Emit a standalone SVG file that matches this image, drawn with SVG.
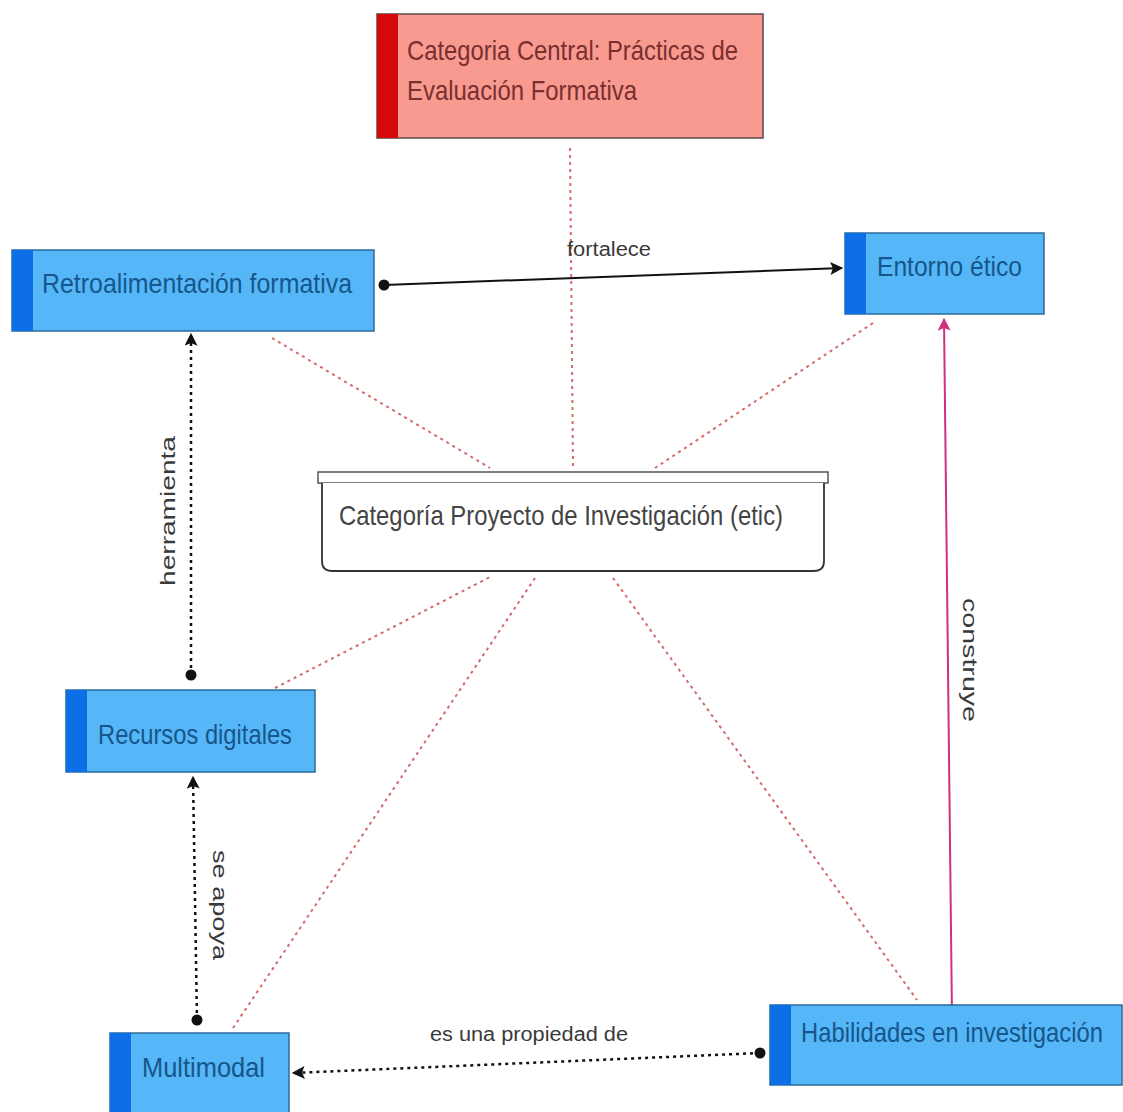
<svg xmlns="http://www.w3.org/2000/svg" width="1123" height="1112" viewBox="0 0 1123 1112">
<defs>
<style>
.lbl{font-family:"Liberation Sans Narrow","Liberation Sans",Arial,sans-serif;font-size:28px;fill:#17568a}
.el{font-family:"Liberation Sans",Arial,sans-serif;font-size:20px;fill:#3a3a3a}
.blue{fill:#55b6f8;stroke:#2b6b9a;stroke-width:1.5}
.strip{fill:#0d6fe6}
.rel{stroke:#d46a6a;stroke-width:2;stroke-dasharray:3 4;fill:none}
.blk{stroke:#111;stroke-width:2;fill:none}
.dash{stroke:#111;stroke-width:2.5;stroke-dasharray:3 4;fill:none}
</style>
<marker id="arrM" viewBox="0 0 10 10" refX="9" refY="5" markerWidth="15" markerHeight="13" orient="auto" markerUnits="userSpaceOnUse">
<path d="M0,0 L10,5 L0,10 L2,5 Z" fill="#d0307f"/>
</marker>
<marker id="arrB" viewBox="0 0 10 10" refX="9" refY="5" markerWidth="15" markerHeight="13" orient="auto" markerUnits="userSpaceOnUse">
<path d="M0,0 L10,5 L0,10 L2,5 Z" fill="#111"/>
</marker>
</defs>
<rect width="1123" height="1112" fill="#fff"/>

<g id="connectors">
<line class="rel" x1="570" y1="148" x2="573" y2="466"/>
<line class="rel" x1="272" y1="338" x2="490" y2="468"/>
<line class="rel" x1="873" y1="323" x2="655" y2="468"/>
<line class="rel" x1="275" y1="688" x2="490" y2="577"/>
<line class="rel" x1="233" y1="1028" x2="535" y2="578"/>
<line class="rel" x1="613" y1="578" x2="917" y2="1000"/>

<line class="blk" x1="384" y1="285" x2="842" y2="268" marker-end="url(#arrB)"/>
<circle cx="384" cy="285" r="5.5" fill="#111"/>
<text class="el" x="567" y="256" textLength="84" lengthAdjust="spacingAndGlyphs">fortalece</text>

<line class="dash" x1="191" y1="675" x2="191" y2="334" marker-end="url(#arrB)"/>
<circle cx="191" cy="675" r="5.5" fill="#111"/>
<text class="el" transform="translate(175,586) rotate(-90)" textLength="150" lengthAdjust="spacingAndGlyphs">herramienta</text>

<line class="dash" x1="197" y1="1020" x2="193" y2="777" marker-end="url(#arrB)"/>
<circle cx="197" cy="1020" r="5.5" fill="#111"/>
<text class="el" transform="translate(213,850) rotate(90)" textLength="110" lengthAdjust="spacingAndGlyphs">se apoya</text>

<line class="dash" x1="760" y1="1053" x2="293" y2="1073" marker-end="url(#arrB)"/>
<circle cx="760" cy="1053" r="5.5" fill="#111"/>
<text class="el" x="430" y="1041" textLength="198" lengthAdjust="spacingAndGlyphs">es una propiedad de</text>

<line stroke="#d0307f" stroke-width="2" x1="952" y1="1017" x2="944" y2="319" marker-end="url(#arrM)"/>
<circle cx="952" cy="1017" r="5.5" fill="#d0307f"/>
<text class="el" transform="translate(963,598) rotate(90)" textLength="124" lengthAdjust="spacingAndGlyphs">construye</text>
</g>

<g id="central">
<rect x="377" y="14" width="386" height="124" fill="#f99a90" stroke="#5a4a4a" stroke-width="1.5"/>
<rect x="377" y="14" width="21" height="124" fill="#d40a0a"/>
<text x="407" y="60" font-family="Liberation Sans Narrow,Liberation Sans,Arial,sans-serif" font-size="28" fill="#7a2f2f" textLength="331" lengthAdjust="spacingAndGlyphs">Categoria Central: Prácticas de</text>
<text x="407" y="100" font-family="Liberation Sans Narrow,Liberation Sans,Arial,sans-serif" font-size="28" fill="#7a2f2f" textLength="230" lengthAdjust="spacingAndGlyphs">Evaluación Formativa</text>
</g>

<g id="retro">
<rect class="blue" x="12" y="250" width="362" height="81"/>
<rect class="strip" x="12" y="250" width="21" height="81"/>
<text class="lbl" x="42" y="293" textLength="310" lengthAdjust="spacingAndGlyphs">Retroalimentación formativa</text>
</g>

<g id="entorno">
<rect class="blue" x="845" y="233" width="199" height="81"/>
<rect class="strip" x="845" y="233" width="21" height="81"/>
<text class="lbl" x="877" y="276" textLength="145" lengthAdjust="spacingAndGlyphs">Entorno ético</text>
</g>

<g id="proyecto">
<rect x="318" y="472" width="510" height="11" fill="#fff" stroke="#555" stroke-width="1.5"/>
<path d="M322,483 L322,561 Q322,571 332,571 L814,571 Q824,571 824,561 L824,483" fill="#fff" stroke="#333" stroke-width="1.8"/>
<text x="339" y="525" font-family="Liberation Sans Narrow,Liberation Sans,Arial,sans-serif" font-size="28" fill="#444" textLength="444" lengthAdjust="spacingAndGlyphs">Categoría Proyecto de Investigación (etic)</text>
</g>

<g id="recursos">
<rect class="blue" x="66" y="690" width="249" height="82"/>
<rect class="strip" x="66" y="690" width="21" height="82"/>
<text class="lbl" x="98" y="744" textLength="194" lengthAdjust="spacingAndGlyphs">Recursos digitales</text>
</g>

<g id="multimodal">
<rect class="blue" x="110" y="1033" width="179" height="85"/>
<rect class="strip" x="110" y="1033" width="21" height="85"/>
<text class="lbl" x="142" y="1077" textLength="123" lengthAdjust="spacingAndGlyphs">Multimodal</text>
</g>

<g id="habilidades">
<rect class="blue" x="770" y="1005" width="352" height="80"/>
<rect class="strip" x="770" y="1005" width="21" height="80"/>
<text class="lbl" x="801" y="1042" font-size="27" textLength="302" lengthAdjust="spacingAndGlyphs">Habilidades en investigación</text>
</g>
</svg>
